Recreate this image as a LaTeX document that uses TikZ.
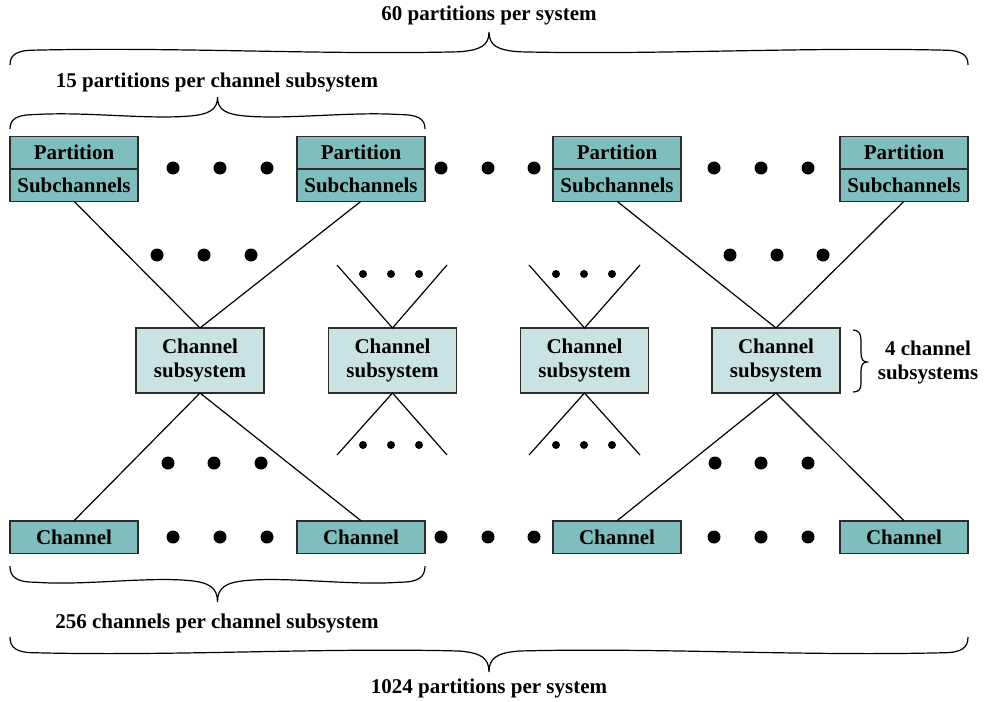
\documentclass[tikz,border=0pt]{standalone}
\usepackage{fontspec}
\setmainfont{Liberation Serif}
\usetikzlibrary{positioning}

\definecolor{partteal}{RGB}{127,190,189}
\definecolor{subteal}{RGB}{201,227,227}
\definecolor{boxline}{RGB}{45,45,45}

% horizontal curly brace: left x, right x, end y, tip offset (negative = tip up)
\newcommand{\hbrace}[4]{%
  \pgfmathsetmacro{\bxm}{(#1+#2)/2}
  \pgfmathsetmacro{\bxa}{#1+0.35*(\bxm-#1)}
  \pgfmathsetmacro{\bxb}{\bxm-0.35*(\bxm-#1)}
  \pgfmathsetmacro{\bxc}{\bxm+0.35*(#2-\bxm)}
  \pgfmathsetmacro{\bxd}{#2-0.35*(#2-\bxm)}
  \pgfmathsetmacro{\byA}{#3+0.3*(#4)}
  \pgfmathsetmacro{\byB}{#3+0.45*(#4)}
  \pgfmathsetmacro{\byC}{#3+0.55*(#4)}
  \pgfmathsetmacro{\byD}{#3+0.4*(#4)}
  \pgfmathsetmacro{\byE}{#3+0.6*(#4)}
  \pgfmathsetmacro{\byT}{#3+(#4)}
  \draw[brace line] (#1,#3) .. controls (#1,\byA) and (#1+6,\byB) .. (#1+25,\byB)
    .. controls (\bxa,\byC) and (\bxb,\byA) .. (\bxm-30,\byD)
    .. controls (\bxm-8,\byB) and (\bxm,\byE) .. (\bxm,\byT)
    .. controls (\bxm,\byE) and (\bxm+8,\byB) .. (\bxm+30,\byD)
    .. controls (\bxc,\byA) and (\bxd,\byC) .. (#2-25,\byB)
    .. controls (#2-6,\byB) and (#2,\byA) .. (#2,#3);
}

\begin{document}
\begin{tikzpicture}[
    x=0.5pt, y=-0.5pt,
    font=\fontsize{10.5}{12}\selectfont\bfseries,
    part/.style={draw=boxline, fill=partteal, line width=0.75pt, outer sep=0pt, inner sep=0pt,
                 minimum width=64pt, minimum height=16.25pt},
    subsys/.style={draw=boxline, fill=subteal, line width=0.75pt, outer sep=0pt, inner sep=0pt,
                 minimum width=64pt, minimum height=32.5pt, align=center},
    link/.style={line width=0.6pt},
    brace line/.style={line width=0.6pt},
    caption/.style={inner sep=0pt}
]
\useasboundingbox (0,0) rectangle (989,701);

% partitions
\node[part] (part1) at (74,152.5) {Partition};
\node[part, below=0pt of part1] (sub1) {Subchannels};
\node[part] (part2) at (361,152.5) {Partition};
\node[part, below=0pt of part2] (sub2) {Subchannels};
\node[part] (part3) at (617,152.5) {Partition};
\node[part, below=0pt of part3] (sub3) {Subchannels};
\node[part] (part4) at (904,152.5) {Partition};
\node[part, below=0pt of part4] (sub4) {Subchannels};

% channel subsystems
\node[subsys] (css1) at (200,360.5) {Channel\\subsystem};
\node[subsys] (css2) at (392.5,360.5) {Channel\\subsystem};
\node[subsys] (css3) at (584.5,360.5) {Channel\\subsystem};
\node[subsys] (css4) at (776,360.5) {Channel\\subsystem};

% channels
\node[part] (ch1) at (74,537) {Channel};
\node[part] (ch2) at (361,537) {Channel};
\node[part] (ch3) at (617,537) {Channel};
\node[part] (ch4) at (904,537) {Channel};

% fan-in / fan-out
\draw[link] (sub1.south) -- (css1.north) -- (sub2.south);
\draw[link] (sub3.south) -- (css4.north) -- (sub4.south);
\draw[link] (ch1.north) -- (css1.south) -- (ch2.north);
\draw[link] (ch3.north) -- (css4.south) -- (ch4.north);

\coordinate (v2tl) at (337,265); \coordinate (v2tr) at (447,265);
\coordinate (v2bl) at (337,455); \coordinate (v2br) at (447,455);
\coordinate (v3tl) at (529,265); \coordinate (v3tr) at (640,265);
\coordinate (v3bl) at (529,455); \coordinate (v3br) at (640,455);
\draw[link] (v2tl) -- (css2.north) -- (v2tr);
\draw[link] (v2bl) -- (css2.south) -- (v2br);
\draw[link] (v3tl) -- (css3.north) -- (v3tr);
\draw[link] (v3bl) -- (css3.south) -- (v3br);

% dots
\foreach \x in {173,220,267,441,488,534,714,761,808} {
  \fill (\x,168) circle[radius=6.5];
  \fill (\x,537) circle[radius=6.5];
}
\foreach \x in {157,204,251,730,777,823} \fill (\x,255) circle[radius=6.5];
\foreach \x in {168,214,261,715,761,808} \fill (\x,463) circle[radius=6.5];
\foreach \x in {363,391,419,556,584,612} {
  \fill (\x,274) circle[radius=4];
  \fill (\x,445) circle[radius=4];
}

% braces
\hbrace{10}{968}{65}{-33}
\hbrace{10}{425}{129}{-32}
\hbrace{10}{425}{566}{36}
\hbrace{10}{968}{637}{35}
\draw[brace line] (853,330) .. controls (858,330) and (861,333) .. (861,340) -- (861,353)
  .. controls (861,359) and (863,362) .. (867,362)
  .. controls (863,362) and (861,365) .. (861,371) -- (861,384)
  .. controls (861,390) and (858,392) .. (853,392);

% labels
\node[caption] (lblsys) at (489,15) {60 partitions per system};
\node[caption] (lblpart) at (217,82) {15 partitions per channel subsystem};
\node[caption] (lblchan) at (217,623) {256 channels per channel subsystem};
\node[caption] (lbltotal) at (489,688) {1024 partitions per system};
\node[caption, align=center] (lblcss) at (928,362) {4 channel\\subsystems};
\end{tikzpicture}
\end{document}
